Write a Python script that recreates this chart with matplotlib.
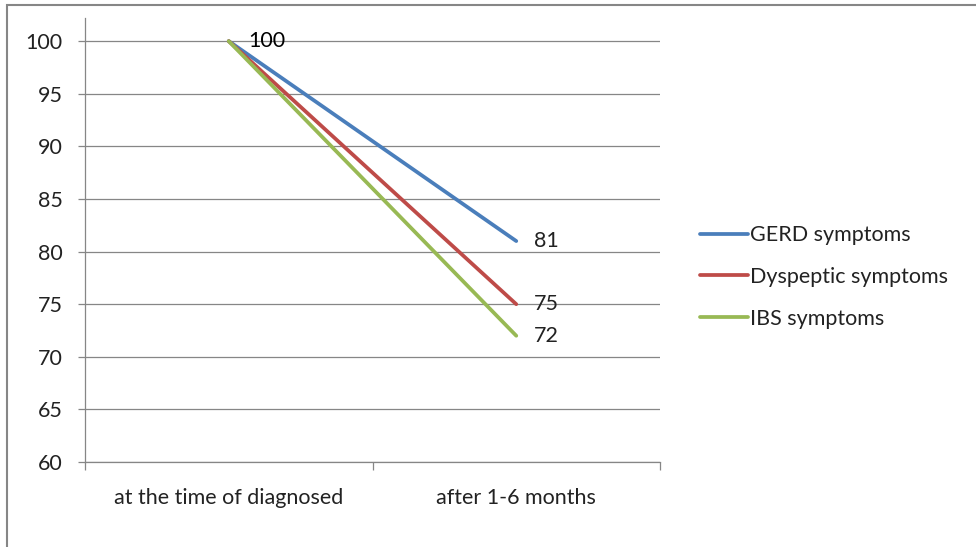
import matplotlib
matplotlib.use("Agg")
import matplotlib.pyplot as plt
from matplotlib.patches import Rectangle

categories = ["at the time of diagnosed", "after 1-6 months"]
gerd = [100, 81]
dyspeptic = [100, 75]
ibs = [100, 72]
series_names = ["GERD symptoms", "Dyspeptic symptoms", "IBS symptoms"]
colors = ["#4A7EBB", "#BE4B48", "#98B954"]
yticks = [60, 65, 70, 75, 80, 85, 90, 95, 100]

plt.rcParams['font.family'] = ['Lato', 'DejaVu Sans']
FS = 15.5

fig = plt.figure(figsize=(9.76, 5.47), dpi=100)
W, H = 976, 547
ax = fig.add_axes([85 / W, (H - 462) / H, 575 / W, (462 - 18) / H])

x = list(range(len(categories)))
lines = []
for vals, name, c in zip([gerd, dyspeptic, ibs], series_names, colors):
    ln, = ax.plot(x, vals, color=c, linewidth=2.7, label=name,
                  solid_capstyle='round', zorder=3)
    lines.append(ln)

# value labels at the first point (all equal) and the last point
ax.annotate(str(gerd[0]), (x[0], gerd[0]), xytext=(14, 0),
            textcoords='offset points', va='center', ha='left',
            fontsize=FS, color='black', zorder=4)
for vals in [gerd, dyspeptic, ibs]:
    ax.annotate(str(vals[-1]), (x[-1], vals[-1]), xytext=(13, 0),
                textcoords='offset points', va='center', ha='left',
                fontsize=FS, color='#222222', zorder=4)

ax.set_xlim(-0.5, 1.5)
ax.set_ylim(60, 102.2)
ax.set_yticks(yticks)
ax.set_yticklabels([str(v) for v in yticks])
ax.yaxis.grid(True, color='#868686', linewidth=0.9)
ax.set_axisbelow(True)

ax.set_xticks(x)
ax.set_xticklabels(categories)
ax.set_xticks([-0.5, 0.5, 1.5], minor=True)
ax.tick_params(axis='x', which='major', length=0, pad=19, labelsize=FS,
               labelcolor='#222222')
ax.tick_params(axis='x', which='minor', length=6, width=0.9, color='#868686')
ax.tick_params(axis='y', length=5, width=0.9, color='#868686', pad=11,
               labelsize=FS, labelcolor='#222222')

for s in ['top', 'right']:
    ax.spines[s].set_visible(False)
for s in ['left', 'bottom']:
    ax.spines[s].set_color('#868686')
    ax.spines[s].set_linewidth(0.9)

fig.legend(handles=lines, loc='center left',
           bbox_to_anchor=(700 / W, 1 - 277 / H), frameon=False,
           fontsize=FS, handlelength=2.25, handletextpad=0.05,
           labelspacing=1.0, borderpad=0, borderaxespad=0,
           labelcolor='#222222')

# outer chart border
fig.patches.append(Rectangle((7 / W, -0.01), 1.0, 1 - 5 / H + 0.01,
                             transform=fig.transFigure, fill=False,
                             edgecolor='#868686', linewidth=1.5))

fig.savefig("out.png", dpi=100)
